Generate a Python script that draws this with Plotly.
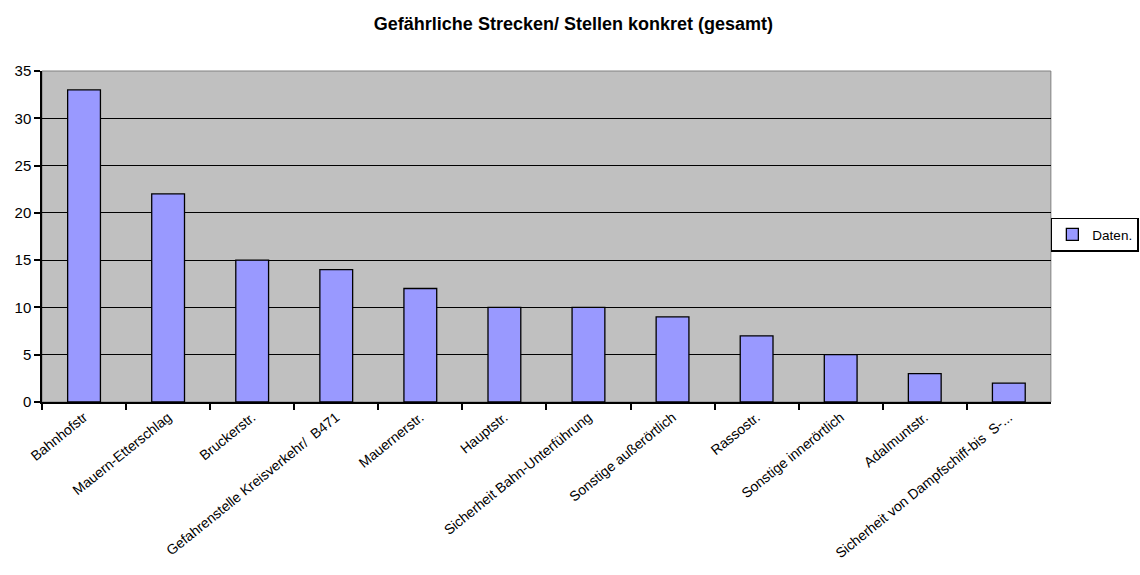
import plotly.graph_objects as go

# Kategorien (Strecken/Stellen) und Anzahl der Nennungen
categories = [
    "Bahnhofstr",
    "Mauern-Etterschlag",
    "Bruckerstr.",
    "Gefahrenstelle Kreisverkehr/  B471",
    "Mauernerstr.",
    "Hauptstr.",
    "Sicherheit Bahn-Unterführung",
    "Sonstige außerörtlich",
    "Rassostr.",
    "Sonstige innerörtlich",
    "Adalmuntstr.",
    "Sicherheit von Dampfschiff-bis  S-...",
]
values = [33, 22, 15, 14, 12, 10, 10, 9, 7, 5, 3, 2]
series_name = "Daten."
y_ticks = [0, 5, 10, 15, 20, 25, 30, 35]

font_family = "Liberation Sans, Arial, sans-serif"

fig = go.Figure(
    go.Bar(
        x=categories,
        y=values,
        name=series_name,
        width=0.39,
        marker=dict(color="#9999FF", line=dict(color="black", width=1.3)),
        showlegend=True,
    )
)

fig.update_layout(
    width=1140,
    height=575,
    margin=dict(l=42, r=88, t=71, b=173),
    paper_bgcolor="white",
    plot_bgcolor="#C0C0C0",
    font=dict(family=font_family, size=14, color="black"),
    title=dict(
        text="<b>Gefährliche Strecken/ Stellen konkret (gesamt)</b>",
        x=0.503,
        xref="container",
        xanchor="center",
        y=0.958,
        yref="container",
        yanchor="middle",
        font=dict(size=18, family=font_family),
    ),
    legend=dict(
        xref="container",
        yref="container",
        x=0.999,
        xanchor="right",
        y=0.592,
        yanchor="middle",
        bordercolor="black",
        borderwidth=1.5,
        bgcolor="white",
        font=dict(size=13.5),
        itemwidth=30,
    ),
    # Rahmen der Zeichenfläche
    shapes=[
        dict(
            type="rect",
            xref="paper",
            yref="paper",
            x0=0,
            x1=1,
            y0=0,
            y1=1,
            line=dict(color="#808080", width=1),
            layer="below",
        )
    ],
)

fig.update_xaxes(
    type="category",
    tickangle=-39,
    tickson="boundaries",
    ticks="outside",
    ticklen=6,
    tickwidth=1.5,
    tickcolor="black",
    showline=True,
    linecolor="black",
    linewidth=1.5,
    showgrid=False,
    automargin=False,
    tickfont=dict(size=14),
)
fig.update_yaxes(
    range=[0, 35],
    tickvals=y_ticks,
    ticks="outside",
    ticklen=6,
    tickwidth=1.5,
    tickcolor="black",
    showline=True,
    linecolor="black",
    linewidth=1.5,
    showgrid=True,
    gridcolor="black",
    gridwidth=1,
    zeroline=False,
    automargin=False,
    tickfont=dict(size=15),
)

fig.write_html("out.html")
